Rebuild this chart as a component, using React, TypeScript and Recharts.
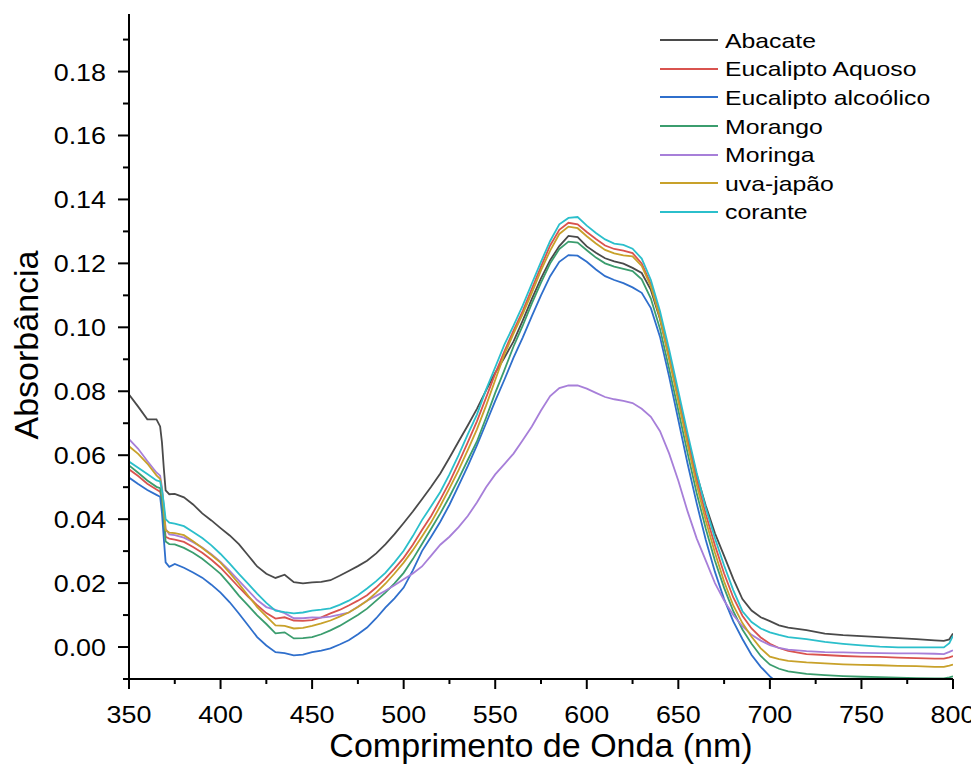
import React from 'react';
import { LineChart, Line, XAxis, YAxis, Legend, Label } from 'recharts';

const wavelengths = [
  350, 355, 360, 365, 367, 368, 369, 370, 372, 375,
  380, 385, 390, 395, 400, 405, 410, 415, 420, 425,
  430, 435, 440, 445, 450, 455, 460, 465, 470, 475,
  480, 485, 490, 495, 500, 505, 510, 515, 520, 525,
  530, 535, 540, 545, 550, 555, 560, 565, 570, 575,
  580, 585, 590, 595, 600, 605, 610, 615, 620, 625,
  630, 635, 640, 645, 650, 655, 660, 665, 670, 675,
  680, 685, 690, 695, 700, 705, 710, 720, 730, 740,
  750, 760, 770, 780, 790, 795, 798, 800,
];

const abacate = [
  0.0790, 0.0752, 0.0712, 0.0712, 0.0690, 0.0640, 0.0560, 0.0490, 0.0478, 0.0479,
  0.0468, 0.0446, 0.0418, 0.0396, 0.0372, 0.0349, 0.0322, 0.0287, 0.0252, 0.0229,
  0.0216, 0.0226, 0.0203, 0.0199, 0.0202, 0.0204, 0.0209, 0.0223, 0.0238, 0.0253,
  0.0270, 0.0293, 0.0321, 0.0353, 0.0388, 0.0424, 0.0462, 0.0501, 0.0543, 0.0592,
  0.0643, 0.0693, 0.0745, 0.0803, 0.0858, 0.0905, 0.0956, 0.1021, 0.1089, 0.1153,
  0.1210, 0.1254, 0.1286, 0.1282, 0.1253, 0.1233, 0.1216, 0.1206, 0.1199, 0.1186,
  0.1170, 0.1117, 0.1025, 0.0905, 0.0780, 0.0655, 0.0540, 0.0442, 0.0356, 0.0285,
  0.0213, 0.0150, 0.0114, 0.0093, 0.0081, 0.0068, 0.0061, 0.0053, 0.0042, 0.0037,
  0.0034, 0.0031, 0.0028, 0.0025, 0.0021, 0.0019, 0.0024, 0.0042,
];

const eucaliptoAquoso = [
  0.0556, 0.0535, 0.0511, 0.0493, 0.0486, 0.0460, 0.0410, 0.0345, 0.0339, 0.0336,
  0.0329, 0.0313, 0.0295, 0.0273, 0.0248, 0.0218, 0.0187, 0.0158, 0.0131, 0.0106,
  0.0089, 0.0093, 0.0083, 0.0082, 0.0084, 0.0093, 0.0105, 0.0116, 0.0130, 0.0145,
  0.0162, 0.0186, 0.0214, 0.0245, 0.0279, 0.0320, 0.0366, 0.0410, 0.0461, 0.0515,
  0.0576, 0.0640, 0.0706, 0.0780, 0.0855, 0.0925, 0.0990, 0.1051, 0.1120, 0.1190,
  0.1256, 0.1305, 0.1327, 0.1322, 0.1298, 0.1276, 0.1256, 0.1245, 0.1240, 0.1232,
  0.1200, 0.1135, 0.1035, 0.0910, 0.0780, 0.0650, 0.0525, 0.0415, 0.0318, 0.0230,
  0.0155, 0.0098, 0.0058, 0.0030, 0.0010, -0.0003, -0.0012, -0.0022, -0.0025, -0.0028,
  -0.0030, -0.0031, -0.0033, -0.0035, -0.0036, -0.0036, -0.0032, -0.0028,
];

const eucaliptoAlcoolico = [
  0.0530, 0.0510, 0.0491, 0.0476, 0.0470, 0.0420, 0.0340, 0.0265, 0.0251, 0.0260,
  0.0248, 0.0233, 0.0217, 0.0195, 0.0170, 0.0140, 0.0105, 0.0068, 0.0031, 0.0005,
  -0.0016, -0.0019, -0.0026, -0.0024, -0.0016, -0.0011, -0.0004, 0.0008, 0.0021, 0.0040,
  0.0061, 0.0090, 0.0123, 0.0152, 0.0186, 0.0240, 0.0300, 0.0345, 0.0392, 0.0445,
  0.0505, 0.0566, 0.0631, 0.0700, 0.0770, 0.0836, 0.0905, 0.0968, 0.1035, 0.1100,
  0.1160, 0.1205, 0.1226, 0.1224, 0.1205, 0.1181, 0.1160, 0.1148, 0.1138, 0.1125,
  0.1108, 0.1060, 0.0970, 0.0845, 0.0710, 0.0575, 0.0450, 0.0335, 0.0235, 0.0150,
  0.0080, 0.0025, -0.0025, -0.0062, -0.0092, -0.0115, -0.0130, -0.0145, -0.0155, -0.0162,
  -0.0166, -0.0169, -0.0170, -0.0172, -0.0172, -0.0172, -0.0170, -0.0168,
];

const morango = [
  0.0568, 0.0545, 0.0521, 0.0501, 0.0497, 0.0460, 0.0400, 0.0330, 0.0322, 0.0321,
  0.0310, 0.0295, 0.0276, 0.0253, 0.0229, 0.0196, 0.0161, 0.0130, 0.0099, 0.0072,
  0.0043, 0.0046, 0.0027, 0.0028, 0.0031, 0.0040, 0.0052, 0.0066, 0.0083, 0.0100,
  0.0120, 0.0145, 0.0170, 0.0199, 0.0232, 0.0275, 0.0322, 0.0370, 0.0418, 0.0470,
  0.0526, 0.0585, 0.0643, 0.0717, 0.0795, 0.0866, 0.0940, 0.1005, 0.1075, 0.1140,
  0.1200, 0.1245, 0.1268, 0.1265, 0.1241, 0.1218, 0.1200, 0.1190, 0.1183, 0.1176,
  0.1150, 0.1090, 0.0995, 0.0870, 0.0740, 0.0608, 0.0482, 0.0370, 0.0270, 0.0185,
  0.0112, 0.0055, 0.0010, -0.0028, -0.0055, -0.0068, -0.0076, -0.0084, -0.0088, -0.0091,
  -0.0093, -0.0094, -0.0096, -0.0097, -0.0098, -0.0098, -0.0095, -0.0092,
];

const moringa = [
  0.0650, 0.0620, 0.0582, 0.0546, 0.0536, 0.0500, 0.0440, 0.0370, 0.0352, 0.0350,
  0.0342, 0.0328, 0.0311, 0.0290, 0.0266, 0.0238, 0.0208, 0.0177, 0.0147, 0.0125,
  0.0116, 0.0106, 0.0090, 0.0090, 0.0093, 0.0092, 0.0095, 0.0101, 0.0108, 0.0126,
  0.0145, 0.0160, 0.0176, 0.0193, 0.0212, 0.0230, 0.0252, 0.0286, 0.0320, 0.0345,
  0.0375, 0.0410, 0.0452, 0.0500, 0.0540, 0.0572, 0.0605, 0.0647, 0.0690, 0.0740,
  0.0785, 0.0810, 0.0818, 0.0818, 0.0808, 0.0795, 0.0782, 0.0775, 0.0770, 0.0763,
  0.0745, 0.0720, 0.0675, 0.0605, 0.0520, 0.0425, 0.0340, 0.0270, 0.0200, 0.0145,
  0.0100, 0.0065, 0.0038, 0.0020, 0.0006, -0.0003, -0.0008, -0.0013, -0.0016, -0.0017,
  -0.0018, -0.0019, -0.0020, -0.0020, -0.0021, -0.0022, -0.0015, -0.0010,
];

const uvaJapao = [
  0.0628, 0.0604, 0.0574, 0.0537, 0.0526, 0.0490, 0.0430, 0.0365, 0.0358, 0.0356,
  0.0350, 0.0331, 0.0310, 0.0288, 0.0264, 0.0232, 0.0198, 0.0161, 0.0125, 0.0096,
  0.0068, 0.0066, 0.0058, 0.0060, 0.0066, 0.0074, 0.0083, 0.0095, 0.0108, 0.0125,
  0.0145, 0.0170, 0.0198, 0.0230, 0.0264, 0.0303, 0.0346, 0.0390, 0.0441, 0.0496,
  0.0553, 0.0616, 0.0681, 0.0755, 0.0835, 0.0915, 0.0980, 0.1041, 0.1108, 0.1178,
  0.1240, 0.1292, 0.1315, 0.1310, 0.1285, 0.1262, 0.1242, 0.1231, 0.1225, 0.1222,
  0.1192, 0.1128, 0.1028, 0.0900, 0.0768, 0.0635, 0.0508, 0.0395, 0.0295, 0.0205,
  0.0130, 0.0075, 0.0032, -0.0004, -0.0030, -0.0038, -0.0043, -0.0048, -0.0051, -0.0054,
  -0.0056, -0.0057, -0.0059, -0.0060, -0.0062, -0.0062, -0.0058, -0.0055,
];

const corante = [
  0.0580, 0.0561, 0.0541, 0.0521, 0.0518, 0.0490, 0.0450, 0.0400, 0.0389, 0.0386,
  0.0378, 0.0360, 0.0341, 0.0318, 0.0291, 0.0261, 0.0229, 0.0198, 0.0167, 0.0138,
  0.0114, 0.0109, 0.0105, 0.0108, 0.0114, 0.0117, 0.0121, 0.0132, 0.0145, 0.0162,
  0.0183, 0.0206, 0.0232, 0.0265, 0.0301, 0.0347, 0.0397, 0.0440, 0.0485, 0.0540,
  0.0600, 0.0665, 0.0727, 0.0805, 0.0875, 0.0946, 0.1005, 0.1068, 0.1137, 0.1205,
  0.1270, 0.1322, 0.1342, 0.1345, 0.1318, 0.1295, 0.1275, 0.1262, 0.1258, 0.1246,
  0.1215, 0.1148, 0.1050, 0.0930, 0.0800, 0.0670, 0.0545, 0.0435, 0.0340, 0.0255,
  0.0178, 0.0112, 0.0078, 0.0058, 0.0046, 0.0038, 0.0031, 0.0025, 0.0016, 0.0010,
  0.0005, 0.0001, -0.0001, -0.0001, -0.0001, -0.0001, 0.0012, 0.0035,
];

const seriesNames = [
  'Abacate',
  'Eucalipto Aquoso',
  'Eucalipto alcoólico',
  'Morango',
  'Moringa',
  'uva-japão',
  'corante',
];
const seriesColors = ['#4a4a4a', '#d9534f', '#2f6fcc', '#3b9d6e', '#a77fd9', '#c8a12a', '#2bbfcb'];
const seriesValues = [abacate, eucaliptoAquoso, eucaliptoAlcoolico, morango, moringa, uvaJapao, corante];

const xMajorTicks = [350, 400, 450, 500, 550, 600, 650, 700, 750, 800];
const xMinorTicks = [375, 425, 475, 525, 575, 625, 675, 725, 775];
const yMajorTicks = [0, 0.02, 0.04, 0.06, 0.08, 0.1, 0.12, 0.14, 0.16, 0.18];
const yMinorTicks = [-0.01, 0.01, 0.03, 0.05, 0.07, 0.09, 0.11, 0.13, 0.15, 0.17, 0.19];

const X_DOMAIN: [number, number] = [350, 800];
const Y_DOMAIN: [number, number] = [-0.01, 0.198];

const FONT = "Arial, 'Liberation Sans', Helvetica, sans-serif";
const keys = seriesNames.map((_, i) => `s${i}`);

const data = wavelengths.map((wl, i) => {
  const row: Record<string, number> = { wl };
  seriesValues.forEach((arr, j) => {
    row[keys[j]] = arr[i];
  });
  return row;
});

const xTicks = [...xMajorTicks, ...xMinorTicks].sort((a, b) => a - b);
const yTicks = [...yMajorTicks, ...yMinorTicks].sort((a, b) => a - b);

const XTick = (props: any) => {
  const { x, y, payload } = props;
  const v = payload.value;
  const major = xMajorTicks.includes(v);
  return (
    <g>
      <line x1={x} x2={x} y1={y} y2={y + (major ? 10 : 5)} stroke="#000" strokeWidth={2} />
      {major && (
        <text
          transform={`translate(${x},${y + 44}) scale(1.12,1)`}
          textAnchor="middle"
          fontSize={24}
          fontFamily={FONT}
          fill="#000"
        >
          {v}
        </text>
      )}
    </g>
  );
};

const YTick = (props: any) => {
  const { x, y, payload } = props;
  const v = payload.value;
  const major = yMajorTicks.some((t) => Math.abs(t - v) < 1e-9);
  return (
    <g>
      <line x1={x - (major ? 11 : 6)} x2={x} y1={y} y2={y} stroke="#000" strokeWidth={2} />
      {major && (
        <text
          transform={`translate(${x - 23},${y + 9}) scale(1.12,1)`}
          textAnchor="end"
          fontSize={24}
          fontFamily={FONT}
          fill="#000"
        >
          {v.toFixed(2)}
        </text>
      )}
    </g>
  );
};

const LegendBox = () => (
  <div style={{ fontFamily: FONT }}>
    {seriesNames.map((name, i) => (
      <div key={name} style={{ height: 28.6, display: 'flex', alignItems: 'center' }}>
        <span style={{ display: 'inline-block', width: 58, height: 2, background: seriesColors[i] }} />
        <span
          style={{
            display: 'inline-block',
            marginLeft: 7,
            fontSize: 21,
            lineHeight: 1,
            color: '#000',
            transform: 'scaleX(1.18)',
            transformOrigin: 'left center',
            whiteSpace: 'nowrap',
          }}
        >
          {name}
        </span>
      </div>
    ))}
  </div>
);

export default function App() {
  return (
    <div>
      <LineChart width={971} height={762} data={data} margin={{ top: 6, right: 26, left: 0, bottom: 0 }}>
        <XAxis
          dataKey="wl"
          type="number"
          domain={X_DOMAIN}
          ticks={xTicks}
          interval={0}
          allowDataOverflow
          height={91}
          tickSize={0}
          tickMargin={0}
          tickLine={false}
          tick={<XTick />}
          axisLine={{ stroke: '#000', strokeWidth: 2 }}
        >
          <Label
            content={() => (
              <text x={533} y={749} textAnchor="middle" fontSize={34} fontFamily={FONT} fill="#000">
                Comprimento de Onda (nm)
              </text>
            )}
          />
        </XAxis>
        <XAxis
          xAxisId="top"
          orientation="top"
          dataKey="wl"
          type="number"
          domain={X_DOMAIN}
          allowDataOverflow
          height={0}
          tick={false}
          tickLine={false}
          axisLine={{ stroke: '#000', strokeWidth: 2 }}
        />
        <YAxis
          type="number"
          domain={Y_DOMAIN}
          ticks={yTicks}
          interval={0}
          allowDataOverflow
          width={121}
          tickSize={0}
          tickMargin={0}
          tickLine={false}
          tick={<YTick />}
          axisLine={{ stroke: '#000', strokeWidth: 2 }}
        >
          <Label
            content={() => (
              <text
                transform="translate(30,337) rotate(-90)"
                textAnchor="middle"
                fontSize={34}
                fontFamily={FONT}
                fill="#000"
              >
                Absorbância
              </text>
            )}
          />
        </YAxis>
        <YAxis
          yAxisId="right"
          orientation="right"
          type="number"
          domain={Y_DOMAIN}
          allowDataOverflow
          width={0}
          tick={false}
          tickLine={false}
          axisLine={{ stroke: '#000', strokeWidth: 2 }}
        />
        {keys.map((k, i) => (
          <Line
            key={k}
            dataKey={k}
            name={seriesNames[i]}
            stroke={seriesColors[i]}
            strokeWidth={1.8}
            dot={false}
            activeDot={false}
            type="linear"
            isAnimationActive={false}
          />
        ))}
        <Legend
          layout="vertical"
          align="center"
          verticalAlign="middle"
          wrapperStyle={{ left: 652, top: 18, width: 300, height: 210 }}
          content={() => <LegendBox />}
        />
      </LineChart>
    </div>
  );
}
